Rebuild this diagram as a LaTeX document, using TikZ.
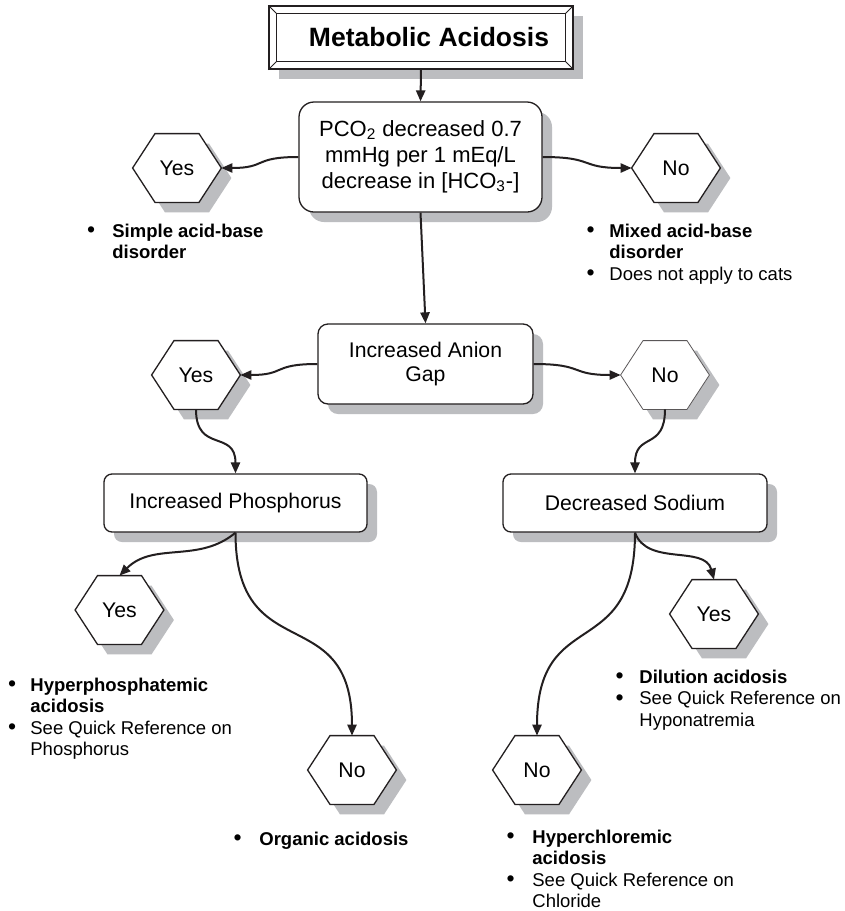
\documentclass[tikz,border=0pt]{standalone}
\usepackage{fontspec}
\setmainfont{Liberation Sans}
\usetikzlibrary{shadows,backgrounds,arrows.meta,calc}
\definecolor{shadowgray}{RGB}{188,189,192}
\definecolor{inkc}{RGB}{35,31,32}
\tikzset{
  box/.style={draw=inkc, line width=0.65pt, rounded corners=5pt, fill=white, inner sep=0pt, align=center,
    font=\fontsize{10.6}{12}\selectfont,
    drop shadow={shadow xshift=5pt, shadow yshift=-5pt, fill=shadowgray, opacity=1}},
  hexbox/.style={inner sep=0pt, minimum width=44pt, minimum height=34pt, font=\fontsize{10.6}{12}\selectfont},
  hexline/.style={draw=inkc, line width=0.65pt, fill=white},
  conn/.style={draw=inkc, line width=1pt, -{Triangle[length=5.5pt,width=4.6pt]}},
  blist/.style={inner sep=0pt, anchor=base west, font=\fontsize{9.25}{10.75}\selectfont},
}
\newcommand\bdot{\raisebox{-0.3pt}{\fontsize{11.5}{11}\selectfont\textbullet}}
\newcommand\hexnode[4][]{%
  \node[hexbox] (#2) at (#3) {#4};
  \begin{scope}[on background layer]
    \fill[shadowgray, transform canvas={shift={(5pt,-5pt)}}] (#2.west) -- ([xshift=-11pt]#2.north) -- ([xshift=11pt]#2.north) -- (#2.east) -- ([xshift=11pt]#2.south) -- ([xshift=-11pt]#2.south) -- cycle;
    \filldraw[hexline,#1] (#2.west) -- ([xshift=-11pt]#2.north) -- ([xshift=11pt]#2.north) -- (#2.east) -- ([xshift=11pt]#2.south) -- ([xshift=-11pt]#2.south) -- cycle;
  \end{scope}}
\begin{document}
\begin{tikzpicture}[x=0.5pt,y=0.5pt]
\useasboundingbox (0,0) rectangle (845,-911);
\begin{scope}[on background layer]
\fill[white] (0,0) rectangle (845,-911);
\end{scope}

% title
\node[draw=inkc, line width=0.65pt, fill=white, minimum width=152pt, minimum height=31.5pt, inner sep=0pt,
  drop shadow={shadow xshift=5pt, shadow yshift=-5pt, fill=shadowgray, opacity=1},
  font=\bfseries\fontsize{13.25}{15}\selectfont] (title) at (421,-37.5) {\hspace{8pt}Metabolic Acidosis};
\draw[inkc, line width=0.5pt] ($(title.north west)+(8,-8)$) rectangle ($(title.south east)+(-8,8)$);
\draw[inkc, line width=0.5pt] (title.north west) -- +(8,-8) (title.north east) -- +(-8,-8)
  (title.south west) -- +(8,8) (title.south east) -- +(-8,8);

% boxes
\node[box, rounded corners=7.5pt, minimum width=121.5pt, minimum height=55pt, font=\fontsize{11}{13}\selectfont] (pco2) at (420.5,-157)
  {PCO\textsubscript{2} decreased 0.7\\mmHg per 1 mEq/L\\decrease in [HCO\textsubscript{3}-]};
\node[box, minimum width=107.5pt, minimum height=40pt] (anion) at (425.5,-364) {Increased Anion\\Gap};
\node[box, rounded corners=4pt, minimum width=131.5pt, minimum height=29pt] (phos) at (235.5,-503) {Increased Phosphorus};
\node[box, rounded corners=4pt, minimum width=132pt, minimum height=29pt] (sod) at (635,-503) {Decreased Sodium};

% hexagons
\hexnode{yes1}{177,-168}{Yes}
\hexnode{no1}{676,-168}{No}
\hexnode{yes2}{196,-375}{Yes}
\hexnode[draw=inkc!75, line width=0.4pt]{no2}{665,-375}{No}
\hexnode{yes3}{119.5,-610}{Yes}
\hexnode{no3}{352,-770}{No}
\hexnode{yes4}{714,-614}{Yes}
\hexnode{no4}{537,-770}{No}

% connectors
\draw[conn] (title.south) -- (pco2.north);
\draw[conn] (pco2.west) to[out=180,in=0,looseness=1.5] (yes1.east);
\draw[conn] (pco2.east) to[out=0,in=180,looseness=1.5] (no1.west);
\draw[conn] (pco2.south) -- (anion.north);
\draw[conn] (anion.west) to[out=180,in=0,looseness=1.5] (yes2.east);
\draw[conn] (anion.east) to[out=0,in=180,looseness=1.5] (no2.west);
\draw[conn] (yes2.south) to[out=-90,in=90,looseness=1.5] (phos.north);
\draw[conn] (no2.south) to[out=-90,in=90,looseness=1.5] (sod.north);
\draw[conn] (phos.south) to[out=-140,in=45] (yes3.north);
\draw[conn] (phos.south) to[out=-90,in=90,looseness=1.5] (no3.north);
\draw[conn] (sod.south) to[out=-70,in=105] (yes4.north);
\draw[conn] (sod.south) to[out=-90,in=90,looseness=1.5] (no4.north);

% bullet lists
\node[blist] (list1) at (86.8,-237) {\begin{tabular}[t]{@{}p{12.6pt}@{}l@{}}\bdot&\textbf{Simple acid-base}\\&\textbf{disorder}\end{tabular}};
\node[blist] (list2) at (586.3,-237) {\begin{tabular}[t]{@{}p{11.35pt}@{}l@{}}\bdot&\textbf{Mixed acid-base}\\&\textbf{disorder}\\\bdot&Does not apply to cats\end{tabular}};
\node[blist] (list3) at (7.8,-691) {\begin{tabular}[t]{@{}p{11.1pt}@{}l@{}}\bdot&\textbf{Hyperphosphatemic}\\&\textbf{acidosis}\\\bdot&See Quick Reference on\\&Phosphorus\end{tabular}};
\node[blist] (list4) at (233.3,-845) {\begin{tabular}[t]{@{}p{12.85pt}@{}l@{}}\bdot&\textbf{Organic acidosis}\end{tabular}};
\node[blist] (list5) at (615.3,-683) {\begin{tabular}[t]{@{}p{11.85pt}@{}l@{}}\bdot&\textbf{Dilution acidosis}\\\bdot&See Quick Reference on\\&Hyponatremia\end{tabular}};
\node[blist] (list6) at (506.3,-843) {\begin{tabular}[t]{@{}p{12.85pt}@{}l@{}}\bdot&\textbf{Hyperchloremic}\\&\textbf{acidosis}\\\bdot&See Quick Reference on\\&Chloride\end{tabular}};
\end{tikzpicture}
\end{document}
